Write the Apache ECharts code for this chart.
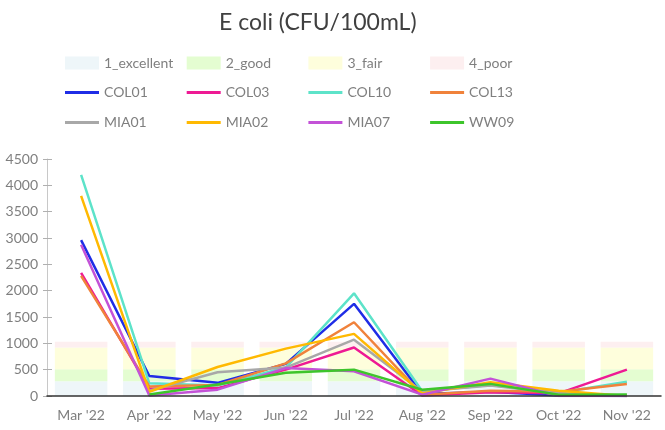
<!DOCTYPE html>
<html>
<head>
<meta charset="utf-8">
<title>E coli</title>
<script src="https://cdn.jsdelivr.net/npm/echarts@6/dist/echarts.min.js"></script>
<style>
  html, body { margin: 0; padding: 0; background: #fff; }
  #chart { width: 665px; height: 430px; }
</style>
</head>
<body>
<div id="chart"></div>
<script>
  // categories
  var months = ["Mar '22", "Apr '22", "May '22", "Jun '22", "Jul '22", "Aug '22", "Sep '22", "Oct '22", "Nov '22"]

  // quality bands (stacked)
  var bandNames = ['1_excellent', '2_good', '3_fair', '4_poor']
  var excellent = [280, 280, 280, 280, 280, 280, 280, 280, 280]
  var good = [230, 230, 230, 230, 230, 230, 230, 230, 230]
  var fair = [410, 410, 410, 410, 410, 410, 410, 410, 410]
  var poor = [110, 110, 110, 110, 110, 110, 110, 110, 110]

  // sites
  var COL01 = [2960, 380, 250, 610, 1750, 40, 80, 10, 0]
  var COL03 = [2340, 140, 150, 500, 920, 10, 70, 50, 500]
  var COL10 = [4200, 240, 200, 540, 1950, 90, 210, 60, 270]
  var COL13 = [2280, 180, 210, 620, 1400, 25, 100, 80, 230]
  var MIA01 = [null, 100, 450, 540, 1070, 85, 200, 50, 0]
  var MIA02 = [3800, 80, 550, 900, 1180, 50, 260, 100, 0]
  var MIA07 = [2870, 10, 120, 530, 470, 25, 330, 0, 0]
  var WW09 = [null, 30, 220, 440, 500, 120, 230, 25, 30]

  var yTicks = { min: 0, max: 4500, interval: 500 }

  var bandData = [excellent, good, fair, poor]
  var bandColors = ['#eef6f9', '#e4fdd1', '#fefedc', '#fdeff0']

  var siteNames = ['COL01', 'COL03', 'COL10', 'COL13', 'MIA01', 'MIA02', 'MIA07', 'WW09']
  var siteData = [COL01, COL03, COL10, COL13, MIA01, MIA02, MIA07, WW09]
  var siteColors = ['#1f2de6', '#ee1a94', '#5de3c9', '#f0823b', '#a8a8a8', '#ffb901', '#c352d7', '#3dc52b']

  var font = 'Lato, "Noto Sans", sans-serif'
  var grey = '#7f7f7f'

  var series = []
  bandNames.forEach(function (name, i) {
    series.push({
      name: name,
      type: 'bar',
      stack: 'band',
      data: bandData[i],
      barCategoryGap: '23%',
      itemStyle: { color: bandColors[i] },
      silent: true
    })
  })
  siteNames.forEach(function (name, i) {
    series.push({
      name: name,
      type: 'line',
      data: siteData[i],
      symbol: 'none',
      z: 3,
      lineStyle: { width: 2.5, color: siteColors[i] },
      itemStyle: { color: siteColors[i] }
    })
  })

  // one legend per item so the columns line up
  var legendItems = bandNames.concat(siteNames)
  var rowCenters = [62.5, 92, 122]
  var legends = legendItems.map(function (name, i) {
    var col = i % 4
    var row = Math.floor(i / 4)
    var h = row === 0 ? 13 : 3
    return {
      data: [{ name: name, icon: 'rect' }],
      left: 65 + col * 121.7,
      top: rowCenters[row] - 6.5,
      padding: 0,
      itemWidth: 34,
      itemHeight: h,
      itemGap: 0,
      selectedMode: false,
      textStyle: { color: grey, fontSize: 14, fontFamily: font }
    }
  })

  var chart = echarts.init(document.getElementById('chart'))
  chart.setOption({
    animation: false,
    title: {
      text: 'E coli (CFU/100mL)',
      left: 214,
      top: 6,
      textStyle: { color: '#404040', fontSize: 23, fontWeight: 'normal', fontFamily: font }
    },
    legend: legends,
    grid: { left: 47, right: 4, top: 159, bottom: 34 },
    xAxis: [{
      type: 'category',
      data: months,
      z: 4,
      axisLine: { lineStyle: { color: '#333', width: 1.5 } },
      axisTick: { alignWithLabel: true, length: 5, lineStyle: { color: '#c0c0c0', width: 1.5 } },
      axisLabel: { color: grey, fontSize: 14, fontFamily: font, margin: 12 }
    }, {
      type: 'category',
      data: months,
      position: 'bottom',
      z: 4,
      axisLine: { show: false },
      axisTick: { alignWithLabel: true, inside: true, length: 4, lineStyle: { color: '#c0c0c0', width: 1.5 } },
      axisLabel: { show: false }
    }],
    yAxis: [{
      type: 'value',
      min: yTicks.min,
      max: yTicks.max,
      interval: yTicks.interval,
      splitLine: { show: false },
      axisLine: { show: true, lineStyle: { color: '#c8c8c8' } },
      axisTick: { show: true, length: 4, lineStyle: { color: '#b0b0b0' } },
      axisLabel: { color: grey, fontSize: 14, fontFamily: font, margin: 9, formatter: function (v) { return String(v) } }
    }, {
      type: 'value',
      position: 'left',
      min: yTicks.min,
      max: yTicks.max,
      interval: yTicks.interval,
      splitLine: { show: false },
      axisLine: { show: false },
      axisTick: { show: true, inside: true, length: 5, lineStyle: { color: '#b0b0b0' } },
      axisLabel: { show: false }
    }],
    series: series
  })
</script>
</body>
</html>
